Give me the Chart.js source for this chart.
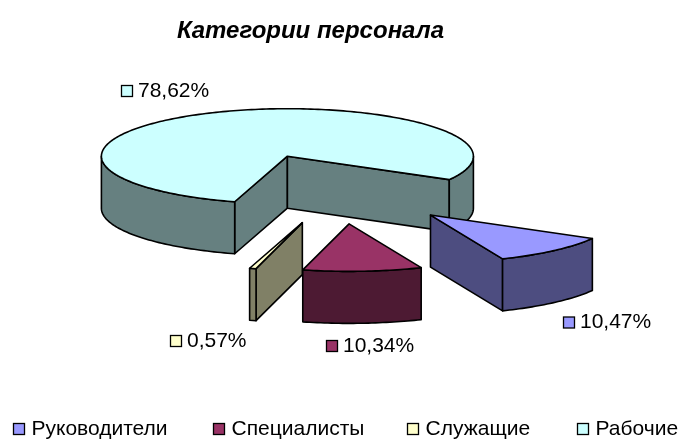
<!DOCTYPE html>
<html><head><meta charset="utf-8">
<style>html,body{margin:0;padding:0;background:#fff}canvas{display:block}</style>
<script src="https://cdn.jsdelivr.net/npm/chart.js@4/dist/chart.umd.js"></script>
</head><body>
<div style="width:683px;height:439px"><canvas id="c"></canvas></div>
<script>
const titleText = 'Категории персонала';
const categories = ['Руководители', 'Специалисты', 'Служащие', 'Рабочие'];
const shares = [10.47, 10.34, 0.57, 78.62];
const valueLabels = ['10,47%', '10,34%', '0,57%', '78,62%'];
const topColors = ['#9999FF', '#993366', '#FFFFCC', '#CCFFFF'];
const sideColors = ['#4D4D80', '#4D1A33', '#808066', '#668080'];

// view of the tilted pie
const VIEW = {cx: 339, cy: 188.8, rx: 186, ry: 47.5, depth: 52, explode: 0.74};
// label placement: swatch left edge and vertical centre
const LABEL_POS = [[563, 322.5], [326, 346], [170, 341], [121, 91]];
const LEGEND_X = [13, 213, 407, 577];
const LEGEND_Y = 429;
const TEXT_FONT = '21px "Liberation Sans"';

function keyed(ctx, x, y, color, text, gap) {
  ctx.fillStyle = color;
  ctx.strokeStyle = '#000';
  ctx.lineWidth = 1.3;
  ctx.fillRect(x + .5, y - 5.5, 11, 11);
  ctx.strokeRect(x + .5, y - 5.5, 11, 11);
  ctx.fillStyle = '#000';
  ctx.fillText(text, x + gap, y);
}

const pie3d = {
  id: 'pie3d',
  afterLayout(chart) { chart.titleBlock.right -= 62; },
  beforeDatasetsDraw(chart) {
    const ctx = chart.ctx, arcs = chart.getDatasetMeta(0).data;
    [3, 2, 1, 0].forEach(i => drawSlice(ctx, arcs[i], i));
    ctx.save();
    ctx.font = TEXT_FONT;
    ctx.textBaseline = 'middle';
    ctx.textAlign = 'left';
    valueLabels.forEach((t, i) => keyed(ctx, LABEL_POS[i][0], LABEL_POS[i][1], topColors[i], t, 17));
    categories.forEach((t, i) => keyed(ctx, LEGEND_X[i], LEGEND_Y, topColors[i], t, 18.5));
    ctx.restore();
    return false;
  }
};

function drawSlice(ctx, arc, i) {
  const a0 = arc.startAngle, a1 = arc.endAngle, mid = (a0 + a1) / 2;
  const ox = VIEW.cx + Math.cos(mid) * VIEW.explode * VIEW.rx;
  const oy = VIEW.cy + Math.sin(mid) * VIEW.explode * VIEW.ry;
  const P = (a, dz) => [ox + Math.cos(a) * VIEW.rx, oy + Math.sin(a) * VIEW.ry + dz];
  const face = (pts, fill) => {
    ctx.beginPath();
    pts.forEach((p, k) => k ? ctx.lineTo(p[0], p[1]) : ctx.moveTo(p[0], p[1]));
    ctx.closePath();
    ctx.fillStyle = fill;
    ctx.fill();
    ctx.stroke();
  };
  const samples = (s, e) => {
    const out = [], n = Math.max(2, Math.ceil((e - s) / 0.02));
    for (let k = 0; k <= n; k++) out.push(s + (e - s) * k / n);
    return out;
  };
  ctx.save();
  ctx.strokeStyle = '#000';
  ctx.lineWidth = 1.6;
  ctx.lineJoin = 'round';
  const d = VIEW.depth, apex = [ox, oy], apexB = [ox, oy + d];
  // radial walls
  const wall = a => face([apex, P(a, 0), P(a, d), apexB], sideColors[i]);
  if (Math.cos(a0) < 0) wall(a0);
  if (Math.cos(a1) > 0) wall(a1);
  // outer wall: only the near half of the rim shows
  for (let t = -2; t <= 2; t++) {
    const lo = Math.max(a0, t * 2 * Math.PI), hi = Math.min(a1, t * 2 * Math.PI + Math.PI);
    if (hi > lo) {
      const as = samples(lo, hi);
      face(as.map(a => P(a, 0)).concat(as.slice().reverse().map(a => P(a, d))), sideColors[i]);
    }
  }
  // top
  face([apex].concat(samples(a0, a1).map(a => P(a, 0))), topColors[i]);
  ctx.restore();
}

new Chart(document.getElementById('c'), {
  type: 'pie',
  data: {
    labels: categories,
    datasets: [{
      data: shares,
      backgroundColor: topColors,
      borderColor: '#000',
      borderWidth: 1
    }]
  },
  options: {
    responsive: true,
    maintainAspectRatio: false,
    animation: false,
    rotation: 119.5,
    plugins: {
      tooltip: {enabled: false},
      legend: {display: false},
      title: {
        display: true, text: titleText, color: '#000',
        font: {family: '"Liberation Sans"', size: 24, style: 'italic', weight: 'bold'},
        padding: {top: 17, bottom: 10}
      }
    }
  },
  plugins: [pie3d]
});
</script>
</body></html>
